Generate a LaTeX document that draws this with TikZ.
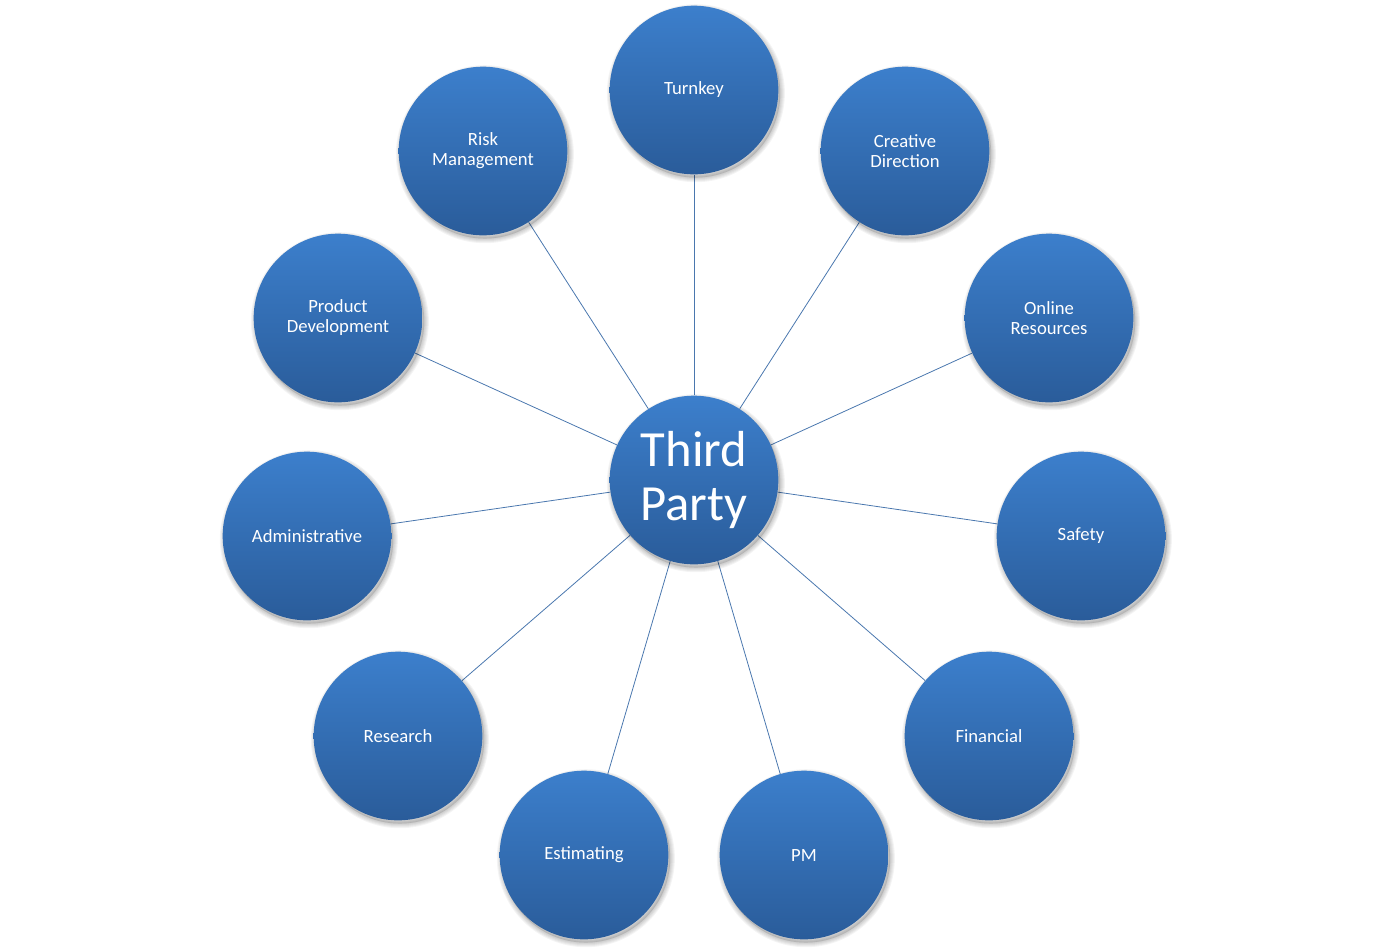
\documentclass[tikz,border=0pt]{standalone}
\usepackage{fontspec}
\setmainfont{Carlito}
\usetikzlibrary{backgrounds}
\definecolor{ctop}{HTML}{3C7FCC}
\definecolor{cbot}{HTML}{2A5C9A}
\definecolor{linkc}{HTML}{4A77AE}
\tikzset{
  shd/.style={preaction={draw=black, draw opacity=0.045, line width=#1,
     transform canvas={shift={(1.4pt,-2.4pt)}}}},
  bubble/.style={circle, minimum size=126.5pt, inner sep=0pt, align=center,
    top color=ctop, bottom color=cbot, draw=none, text=white,
    font=\fontsize{14}{15}\selectfont,
    preaction={fill=black, fill opacity=0.12, transform canvas={shift={(1.4pt,-2.4pt)}}},
    shd=1pt, shd=2.5pt, shd=4pt, shd=5.5pt, shd=7pt},
  hub/.style={bubble, font=\fontsize{38}{41}\selectfont},
  link/.style={draw=linkc, line width=0.6pt}
}
\begin{document}
\begin{tikzpicture}[x=0.75pt,y=-0.75pt]
\useasboundingbox (0,0) rectangle (1389,951);
\node[hub] (c) at (694,480) {Third\\Party};
\node[bubble] (turnkey) at (694,90) {Turnkey};
\node[bubble] (creative) at (905,151) {Creative\\Direction};
\node[bubble] (online) at (1049,318) {Online\\Resources};
\node[bubble] (safety) at (1081,536) {Safety};
\node[bubble] (financial) at (989,736) {Financial};
\node[bubble] (pm) at (804,855) {PM};
\node[bubble] (estimating) at (584,855) {Estimating};
\node[bubble] (research) at (398,736) {Research};
\node[bubble] (admin) at (307,536) {Administrative};
\node[bubble] (product) at (338,318) {Product\\Development};
\node[bubble] (risk) at (483,151) {Risk\\Management};
\begin{scope}[on background layer]
\foreach \n in {turnkey,creative,online,safety,financial,pm,estimating,research,admin,product,risk}
  \draw[link] (c) -- (\n);
\end{scope}
\end{tikzpicture}
\end{document}
